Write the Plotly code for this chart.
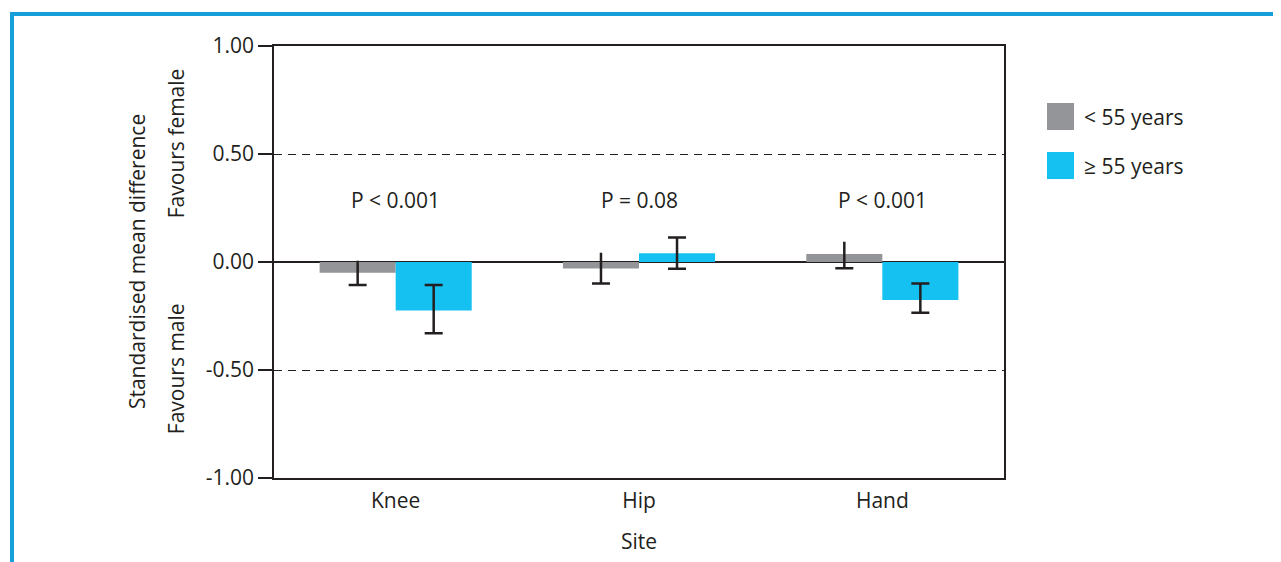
import plotly.graph_objects as go

sites = ["Knee", "Hip", "Hand"]
series_names = ["< 55 years", "\u2265 55 years"]
under55 = [-0.05, -0.03, 0.037]
under55_lo = [-0.106, -0.099, -0.029]
under55_hi = [0.006, 0.043, 0.094]
over55 = [-0.225, 0.040, -0.176]
over55_lo = [-0.330, -0.031, -0.235]
over55_hi = [-0.106, 0.114, -0.099]
p_labels = ["P < 0.001", "P = 0.08", "P < 0.001"]
p_label_y = 0.287
y_ticks = [-1.0, -0.5, 0.0, 0.5, 1.0]
y_tick_labels = ["-1.00", "-0.50", "0.00", "0.50", "1.00"]

GREY = "#939598"
BLUE = "#15c1f1"
INK = "#231f20"
FRAME = "#169fd9"
FONT = "Open Sans"
FS = 21

fig = go.Figure()

# grey bars with whiskers (no caps)
fig.add_trace(go.Bar(
    x=sites, y=under55, name=series_names[0], offsetgroup="a",
    marker=dict(color=GREY, line=dict(width=0)),
    error_y=dict(type="data", symmetric=False,
                 array=[h - m for h, m in zip(under55_hi, under55)],
                 arrayminus=[m - l for m, l in zip(under55, under55_lo)],
                 color=INK, thickness=2.5, width=0),
    showlegend=False,
))
# invisible overlay giving the lower cap only for grey bars
fig.add_trace(go.Bar(
    x=sites, y=under55_lo, offsetgroup="a",
    marker=dict(color="rgba(0,0,0,0)", line=dict(width=0)),
    error_y=dict(type="data", symmetric=False, array=[0, 0, 0], arrayminus=[0, 0, 0],
                 color=INK, thickness=2.5, width=9),
    showlegend=False, hoverinfo="skip",
))
fig.add_trace(go.Bar(
    x=sites, y=over55, name=series_names[1], offsetgroup="b",
    marker=dict(color=BLUE, line=dict(width=0)),
    error_y=dict(type="data", symmetric=False,
                 array=[h - m for h, m in zip(over55_hi, over55)],
                 arrayminus=[m - l for m, l in zip(over55, over55_lo)],
                 color=INK, thickness=2.5, width=9),
    showlegend=False,
))

txt = dict(size=FS, color=INK, family=FONT)
annotations = []
for s, t in zip(sites, p_labels):
    annotations.append(dict(x=s, y=p_label_y, xref="x", yref="y", text=t,
                            xanchor="center", yanchor="middle",
                            showarrow=False, font=txt))

annotations += [
    dict(x=-0.1877, y=0.502, xref="paper", yref="paper", text="Standardised mean difference",
         textangle=-90, xanchor="center", yanchor="middle", showarrow=False, font=txt),
    dict(x=-0.1342, y=0.775, xref="paper", yref="paper", text="Favours female",
         textangle=-90, xanchor="center", yanchor="middle", showarrow=False, font=txt),
    dict(x=-0.1342, y=0.252, xref="paper", yref="paper", text="Favours male",
         textangle=-90, xanchor="center", yanchor="middle", showarrow=False, font=txt),
    dict(x=0.5, y=-0.1458, xref="paper", yref="paper", text="Site",
         xanchor="center", yanchor="middle", showarrow=False, font=txt),
]

# custom legend
legend_colors = [GREY, BLUE]
legend_y = [(0.868, 0.8056), (0.7546, 0.692)]
shapes = [
    dict(type="rect", xref="paper", yref="paper", x0=-0.3589, x1=1.6, y0=-0.4, y1=1.074,
         line=dict(color=FRAME, width=4), fillcolor="rgba(0,0,0,0)", layer="below"),
]
for c, (y1, y0), name in zip(legend_colors, legend_y, series_names):
    shapes.append(dict(type="rect", xref="paper", yref="paper", x0=1.0589, x1=1.0959,
                       y0=y0, y1=y1, line=dict(width=0), fillcolor=c))
    annotations.append(dict(x=1.1068, y=(y0 + y1) / 2, xref="paper", yref="paper", text=name,
                            xanchor="left", yanchor="middle", showarrow=False, font=txt))

fig.update_layout(
    width=1273, height=554,
    margin=dict(l=266, r=277, t=38, b=84),
    paper_bgcolor="white", plot_bgcolor="white",
    barmode="group", bargap=0.375, bargroupgap=0,
    font=dict(family=FONT, size=FS, color=INK),
    annotations=annotations, shapes=shapes,
    showlegend=False,
)
fig.update_xaxes(showline=True, mirror=True, linecolor=INK, linewidth=1.5,
                 ticks="", showgrid=False, ticklabelstandoff=3, tickfont=txt)
fig.update_yaxes(range=[-1, 1], tickvals=y_ticks, ticktext=y_tick_labels,
                 showline=True, mirror=True, linecolor=INK, linewidth=1.5,
                 ticks="outside", ticklen=14, tickwidth=1.5, tickcolor=INK,
                 showgrid=True, gridcolor=INK, gridwidth=1, griddash="8px,6px",
                 zeroline=True, zerolinecolor=INK, zerolinewidth=1.5,
                 tickfont=txt)

fig.write_html("out.html")
